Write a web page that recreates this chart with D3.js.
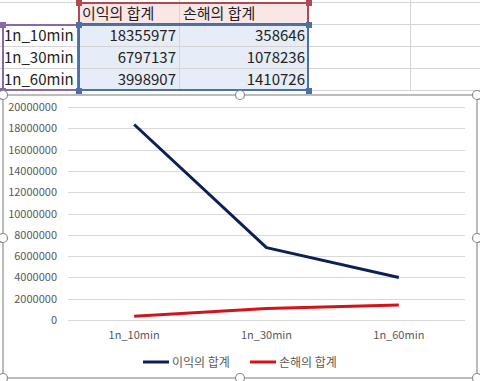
<!DOCTYPE html>
<html><head><meta charset="utf-8">
<script src="https://cdn.jsdelivr.net/npm/d3@7"></script>
<style>
html,body{margin:0;padding:0;background:#fff;overflow:hidden}
svg{display:block}
</style></head>
<body>
<svg id="c" width="480" height="381"></svg>
<script>
const categories = ["1n_10min", "1n_30min", "1n_60min"];
const seriesNames = ["이익의 합계", "손해의 합계"];
const profit = [18355977, 6797137, 3998907];
const loss = [358646, 1078236, 1410726];
const yTicks = [0, 2000000, 4000000, 6000000, 8000000, 10000000, 12000000, 14000000, 16000000, 18000000, 20000000];
const colors = ["#0d1f55", "#d3121c"];

const svg = d3.select("#c");
const font = "'Noto Sans CJK KR','Noto Sans',sans-serif";

// ---------- spreadsheet ----------
const colX = [0, 78, 179, 308, 410, 480];
const rowY = [2, 24, 46, 68, 90];
const sheet = svg.append("g");
// fills
sheet.append("rect").attr("x", colX[1]).attr("y", rowY[0]).attr("width", colX[3]-colX[1]).attr("height", rowY[1]-rowY[0]).attr("fill", "#fbe6e6");
sheet.append("rect").attr("x", colX[1]).attr("y", rowY[1]).attr("width", colX[3]-colX[1]).attr("height", rowY[4]-rowY[1]).attr("fill", "#e6edf8");
// grid
rowY.forEach(y => sheet.append("line").attr("x1", 0).attr("x2", 480).attr("y1", y+0.5).attr("y2", y+0.5).attr("stroke", "#d4d4d4"));
colX.slice(1, 5).forEach(x => sheet.append("line").attr("x1", x+0.5).attr("x2", x+0.5).attr("y1", 0).attr("y2", rowY[4]).attr("stroke", "#d4d4d4"));
// texts
seriesNames.forEach((s, i) => sheet.append("text").attr("x", colX[1+i]+4).attr("y", (rowY[0]+rowY[1])/2+5.5)
  .attr("font-family", font).attr("font-size", 15).attr("fill", "#222").text(s));
categories.forEach((c, r) => {
  const yc = (rowY[r+1]+rowY[r+2])/2 + 5.5;
  sheet.append("text").attr("x", 4).attr("y", yc).attr("font-family", font).attr("font-size", 15).attr("fill", "#222").text(c);
  sheet.append("text").attr("x", colX[2]-3).attr("y", yc).attr("text-anchor", "end").attr("font-family", font).attr("font-size", 15).attr("fill", "#222").text(profit[r]);
  sheet.append("text").attr("x", colX[3]-3).attr("y", yc).attr("text-anchor", "end").attr("font-family", font).attr("font-size", 15).attr("fill", "#222").text(loss[r]);
});
// range highlight borders
function box(x0, y0, x1, y1, col) {
  sheet.append("rect").attr("x", x0+1).attr("y", y0+1).attr("width", x1-x0-1).attr("height", y1-y0-1).attr("fill", "none").attr("stroke", col).attr("stroke-width", 2);
  [[x0, y0], [x1, y0], [x0, y1], [x1, y1]].forEach(p => sheet.append("rect").attr("x", p[0]-3+1).attr("y", p[1]-3+1).attr("width", 6).attr("height", 6).attr("fill", col));
}
box(colX[1], rowY[0], colX[3], rowY[1], "#b04a52");
box(colX[0]+2, rowY[1], colX[1], rowY[4], "#8a67a8");
box(colX[1], rowY[1], colX[3], rowY[4], "#4c70a8");

// ---------- chart ----------
const frame = {x0: 3, y0: 95, x1: 477, y1: 378};
svg.append("rect").attr("x", frame.x0).attr("y", frame.y0).attr("width", frame.x1-frame.x0).attr("height", frame.y1-frame.y0)
  .attr("fill", "#fff").attr("stroke", "#a6a6a6").attr("stroke-width", 1.5);

const x = d3.scaleBand().domain(categories).range([68, 465]);
const y = d3.scaleLinear().domain([0, 20000000]).range([320, 107]);

const g = svg.append("g");
// gridlines
g.selectAll("line.grid").data(yTicks).join("line").attr("class", "grid")
  .attr("x1", 68).attr("x2", 465).attr("y1", d => Math.round(y(d))+0.5).attr("y2", d => Math.round(y(d))+0.5)
  .attr("stroke", "#d9d9d9").attr("stroke-width", 1);

const yAxis = g.append("g").attr("transform", "translate(68,0)")
  .call(d3.axisLeft(y).tickValues(yTicks).tickSize(0).tickPadding(11).tickFormat(d3.format("d")));
yAxis.select(".domain").remove();
yAxis.selectAll("text").attr("font-family", font).attr("font-size", 11).attr("fill", "#595959");

const xAxis = g.append("g").attr("transform", "translate(0,320)")
  .call(d3.axisBottom(x).tickSize(0).tickPadding(11));
xAxis.select(".domain").remove();
xAxis.selectAll("text").attr("font-family", font).attr("font-size", 11).attr("fill", "#595959");

const line = d3.line().x((d, i) => x(categories[i]) + x.bandwidth()/2).y(d => y(d));
[profit, loss].forEach((s, i) => g.append("path").datum(s).attr("d", line)
  .attr("fill", "none").attr("stroke", colors[i]).attr("stroke-width", 3).attr("stroke-linejoin", "round"));

// legend
const legX = [143, 250];
seriesNames.forEach((s, i) => {
  g.append("line").attr("x1", legX[i]).attr("x2", legX[i]+26).attr("y1", 362).attr("y2", 362).attr("stroke", colors[i]).attr("stroke-width", 3);
  g.append("text").attr("x", legX[i]+29).attr("y", 366.5).attr("font-family", font).attr("font-size", 12).attr("fill", "#595959").text(s);
});

// selection handles
[[frame.x0, frame.y0], [240, frame.y0], [frame.x1, frame.y0], [frame.x0, 238], [frame.x1, 238], [frame.x0, frame.y1], [240, frame.y1], [frame.x1, frame.y1]]
  .forEach(p => svg.append("circle").attr("cx", p[0]).attr("cy", p[1]).attr("r", 4.5).attr("fill", "#fff").attr("stroke", "#8c8c8c").attr("stroke-width", 1.2));
</script>
</body></html>
